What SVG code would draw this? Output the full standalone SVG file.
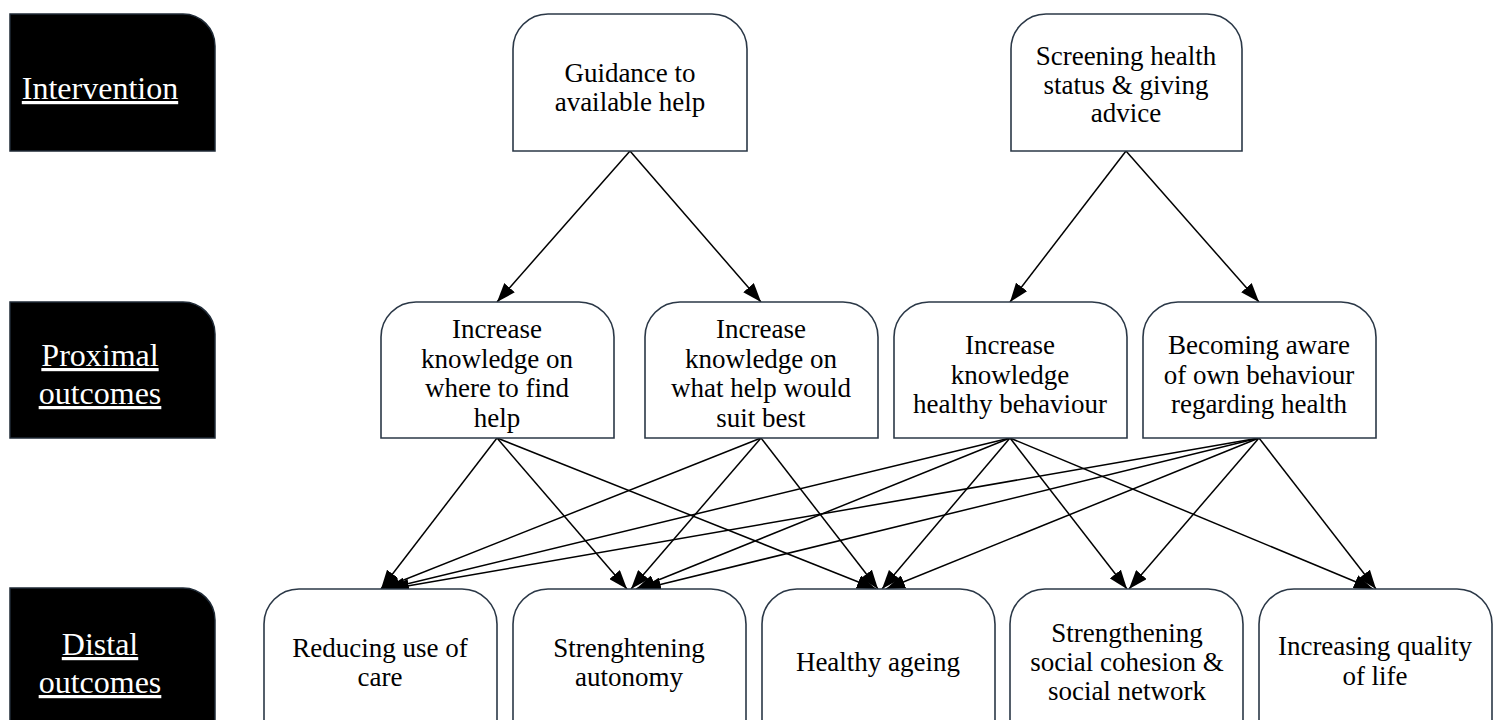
<svg xmlns="http://www.w3.org/2000/svg" width="1502" height="720" viewBox="0 0 1502 720">
<style>
.lbl{fill:#000;stroke:#1f2a36;stroke-width:1.5}
.lt{font-family:"Liberation Serif","Times New Roman",serif;font-size:32px;fill:#fff;text-anchor:middle;text-decoration:underline}
.nd{fill:#fff;stroke:#2b3847;stroke-width:1.6}
.nt{font-family:"Liberation Serif","Times New Roman",serif;font-size:27px;fill:#000;text-anchor:middle}
.cn line{stroke:#000;stroke-width:1.5;marker-end:url(#ah)}
</style>
<defs>
<marker id="ah" markerUnits="userSpaceOnUse" markerWidth="20" markerHeight="14" viewBox="0 0 20 14" refX="19" refY="7" orient="auto">
<path d="M0,0 L19,7 L0,14 Z" fill="#000"/>
</marker>
</defs>
<rect width="1502" height="720" fill="#fff"/>

<g id="label-intervention">
<path class="lbl" d="M10,14 H183 A32,32 0 0 1 215,46 V151 H10 Z"/>
<text class="lt" x="100" y="99">Intervention</text>
</g>
<g id="label-proximal">
<path class="lbl" d="M10,302 H183 A32,32 0 0 1 215,334 V438 H10 Z"/>
<text class="lt" x="100" y="366">Proximal</text>
<text class="lt" x="100" y="404">outcomes</text>
</g>
<g id="label-distal">
<path class="lbl" d="M10,588 H183 A32,32 0 0 1 215,620 V740 H10 Z"/>
<text class="lt" x="100" y="655">Distal</text>
<text class="lt" x="100" y="693">outcomes</text>
</g>

<g class="cn" id="connectors">
<line x1="630" y1="151" x2="497" y2="302"/>
<line x1="630" y1="151" x2="761" y2="302"/>
<line x1="1126" y1="151" x2="1010" y2="302"/>
<line x1="1126" y1="151" x2="1259" y2="302"/>

<line x1="497" y1="438" x2="381" y2="589"/>
<line x1="497" y1="438" x2="627" y2="589"/>
<line x1="497" y1="438" x2="876" y2="589"/>
<line x1="761" y1="438" x2="381" y2="589"/>
<line x1="761" y1="438" x2="631" y2="589"/>
<line x1="761" y1="438" x2="878" y2="589"/>
<line x1="1010" y1="438" x2="386" y2="589"/>
<line x1="1010" y1="438" x2="636" y2="589"/>
<line x1="1010" y1="438" x2="882" y2="589"/>
<line x1="1010" y1="438" x2="1127" y2="589"/>
<line x1="1010" y1="438" x2="1373" y2="589"/>
<line x1="1259" y1="438" x2="390" y2="589"/>
<line x1="1259" y1="438" x2="642" y2="589"/>
<line x1="1259" y1="438" x2="886" y2="589"/>
<line x1="1259" y1="438" x2="1129" y2="589"/>
<line x1="1259" y1="438" x2="1376" y2="589"/>
</g>

<g id="node-guidance">
<path class="nd" d="M513,49 A35,35 0 0 1 548,14 H712 A35,35 0 0 1 747,49 V151 H513 Z"/>
<text class="nt" x="630" y="82">Guidance to</text>
<text class="nt" x="630" y="111">available help</text>
</g>
<g id="node-screening">
<path class="nd" d="M1011,49 A35,35 0 0 1 1046,14 H1207 A35,35 0 0 1 1242,49 V151 H1011 Z"/>
<text class="nt" x="1126" y="65">Screening health</text>
<text class="nt" x="1126" y="93.5">status &amp; giving</text>
<text class="nt" x="1126" y="122">advice</text>
</g>

<g id="node-where">
<path class="nd" d="M381,337 A35,35 0 0 1 416,302 H579 A35,35 0 0 1 614,337 V438 H381 Z"/>
<text class="nt" x="497" y="338">Increase</text>
<text class="nt" x="497" y="367.5">knowledge on</text>
<text class="nt" x="497" y="397">where to find</text>
<text class="nt" x="497" y="426.5">help</text>
</g>
<g id="node-what">
<path class="nd" d="M645,337 A35,35 0 0 1 680,302 H843 A35,35 0 0 1 878,337 V438 H645 Z"/>
<text class="nt" x="761" y="338">Increase</text>
<text class="nt" x="761" y="367.5">knowledge on</text>
<text class="nt" x="761" y="397">what help would</text>
<text class="nt" x="761" y="426.5">suit best</text>
</g>
<g id="node-healthy-behaviour">
<path class="nd" d="M894,337 A35,35 0 0 1 929,302 H1092 A35,35 0 0 1 1127,337 V438 H894 Z"/>
<text class="nt" x="1010" y="354">Increase</text>
<text class="nt" x="1010" y="384">knowledge</text>
<text class="nt" x="1010" y="413">healthy behaviour</text>
</g>
<g id="node-aware">
<path class="nd" d="M1143,337 A35,35 0 0 1 1178,302 H1341 A35,35 0 0 1 1376,337 V438 H1143 Z"/>
<text class="nt" x="1259" y="354">Becoming aware</text>
<text class="nt" x="1259" y="384">of own behaviour</text>
<text class="nt" x="1259" y="413">regarding health</text>
</g>

<g id="node-care">
<path class="nd" d="M264,624 A35,35 0 0 1 299,589 H462 A35,35 0 0 1 497,624 V740 H264 Z"/>
<text class="nt" x="380" y="657">Reducing use of</text>
<text class="nt" x="380" y="686">care</text>
</g>
<g id="node-autonomy">
<path class="nd" d="M513,624 A35,35 0 0 1 548,589 H711 A35,35 0 0 1 746,624 V740 H513 Z"/>
<text class="nt" x="629" y="657">Strenghtening</text>
<text class="nt" x="629" y="686">autonomy</text>
</g>
<g id="node-ageing">
<path class="nd" d="M762,624 A35,35 0 0 1 797,589 H960 A35,35 0 0 1 995,624 V740 H762 Z"/>
<text class="nt" x="878" y="671">Healthy ageing</text>
</g>
<g id="node-social">
<path class="nd" d="M1010,624 A35,35 0 0 1 1045,589 H1208 A35,35 0 0 1 1243,624 V740 H1010 Z"/>
<text class="nt" x="1127" y="642">Strengthening</text>
<text class="nt" x="1127" y="671">social cohesion &amp;</text>
<text class="nt" x="1127" y="700">social network</text>
</g>
<g id="node-quality">
<path class="nd" d="M1259,624 A35,35 0 0 1 1294,589 H1457 A35,35 0 0 1 1492,624 V740 H1259 Z"/>
<text class="nt" x="1375" y="655">Increasing quality</text>
<text class="nt" x="1375" y="685">of life</text>
</g>
</svg>
